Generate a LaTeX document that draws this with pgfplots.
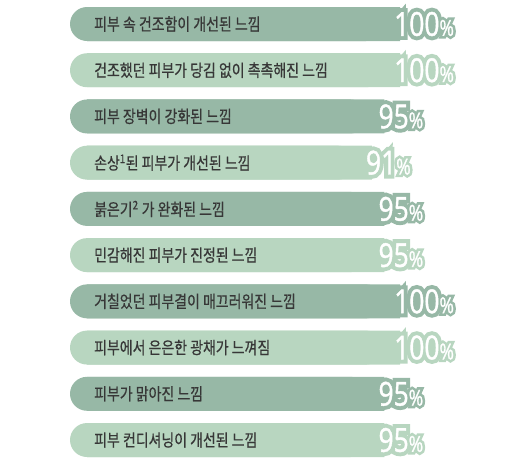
\documentclass[border=0pt]{standalone}
\usepackage{pgfplots}
\pgfplotsset{compat=1.18}
\usepackage{pgfplotstable}
\usepackage{fontspec}
\newfontfamily\krfont{Noto Sans CJK KR}[FakeStretch=0.82,FakeBold=0.6]
\newfontfamily\pctfont{Open Sans}[FakeStretch=0.8,FakeBold=1.2]
\newfontfamily\pctoutline{Open Sans}[FakeStretch=0.8,FakeBold=25]
\definecolor{dk}{RGB}{151,184,166}
\definecolor{lt}{RGB}{184,214,192}
\definecolor{tx}{RGB}{55,55,55}
\newcommand{\pct}[2]{%
  \rlap{\color{#1}\pctoutline\fontsize{33}{33}\selectfont #2{\fontsize{22}{22}\selectfont\%}}%
  {\color{white}\pctfont\fontsize{33}{33}\selectfont #2{\fontsize{22}{22}\selectfont\%}}}

\pgfplotstableread{
y v
1 100
3 95
5 95
7 100
9 95
}\darkdata
\pgfplotstableread{
y v
2 100
4 91
6 95
8 100
10 95
}\lightdata

\begin{document}
\begin{tikzpicture}
\begin{axis}[
  scale only axis, width=510pt, height=475pt,
  xmin=-22.364, xmax=140.575, ymin=0.4808, ymax=10.757,
  y dir=reverse, hide axis, clip=false,
  bar width=34pt, bar shift=0pt,
]
\path (rel axis cs:0,0) rectangle (rel axis cs:1,1);
% bars: rounded left part + square right part
\addplot[xbar, fill=dk, draw=none, rounded corners=17pt] table[x=v,y=y]{\darkdata};
\addplot[xbar, fill=dk, draw=none, xshift=17pt] table[x=v,y=y]{\darkdata};
\addplot[xbar, fill=lt, draw=none, rounded corners=17pt] table[x=v,y=y]{\lightdata};
\addplot[xbar, fill=lt, draw=none, xshift=17pt] table[x=v,y=y]{\lightdata};
% percentage labels
\addplot[xbar, draw=none, fill=none, point meta=x,
  nodes near coords={\pct{dk}{\pgfmathprintnumber[assume math mode=true]{\pgfplotspointmeta}}},
  every node near coord/.style={anchor=west, xshift=11pt, inner sep=0pt}]
  table[x=v,y=y]{\darkdata};
\addplot[xbar, draw=none, fill=none, point meta=x,
  nodes near coords={\pct{lt}{\pgfmathprintnumber[assume math mode=true]{\pgfplotspointmeta}}},
  every node near coord/.style={anchor=west, xshift=11pt, inner sep=0pt}]
  table[x=v,y=y]{\lightdata};
% category labels
\addplot[draw=none, mark=none, point meta=explicit symbolic,
  nodes near coords={\krfont\fontsize{17}{18}\selectfont\pgfplotspointmeta},
  every node near coord/.style={anchor=west, xshift=24pt, inner sep=0pt, text=tx}]
  coordinates {
  (0,1) [피부 속 건조함이 개선된 느낌]
  (0,2) [건조했던 피부가 당김 없이 촉촉해진 느낌]
  (0,3) [피부 장벽이 강화된 느낌]
  (0,4) [손상\textsuperscript{1}된 피부가 개선된 느낌]
  (0,5) [붉은기\textsuperscript{2} 가 완화된 느낌]
  (0,6) [민감해진 피부가 진정된 느낌]
  (0,7) [거칠었던 피부결이 매끄러워진 느낌]
  (0,8) [피부에서 은은한 광채가 느껴짐]
  (0,9) [피부가 맑아진 느낌]
  (0,10) [피부 컨디셔닝이 개선된 느낌]
  };
\end{axis}
\end{tikzpicture}
\end{document}
